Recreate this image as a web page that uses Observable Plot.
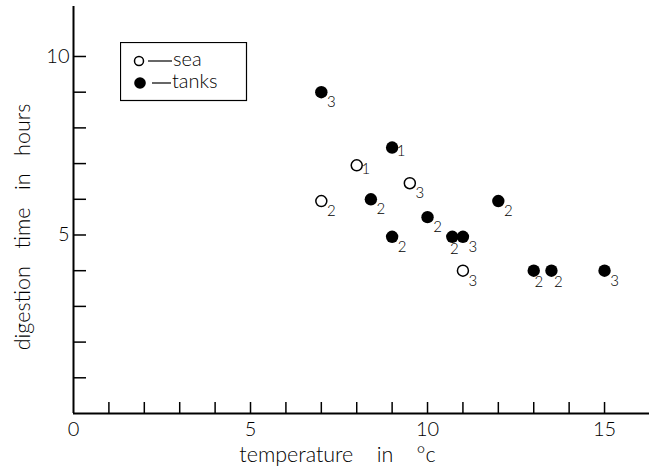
<!DOCTYPE html>
<html><head><meta charset="utf-8">
<script src="https://cdn.jsdelivr.net/npm/d3@7"></script>
<script src="https://cdn.jsdelivr.net/npm/@observablehq/plot@0.6"></script>
<style>
body{margin:0;background:#fff;}
#wrap{position:relative;width:656px;height:469px;}
#legend{position:absolute;left:120px;top:42px;}
svg text{white-space:pre;font-weight:300;}
</style></head><body><div id="wrap"></div>
<script>
// sea-caught fish
const seaTemp = [7, 8, 9.5, 11];
const seaTime = [5.95, 6.95, 6.45, 4];
const seaN    = [2, 1, 3, 3];
// fish kept in tanks
const tankTemp = [7, 9, 8.4, 9, 10, 10.7, 11, 12, 13, 13.5, 15];
const tankTime = [9, 7.45, 6, 4.95, 5.5, 4.95, 4.95, 5.95, 4, 4, 4];
const tankN    = [3, 1, 2, 2, 2, 2, 3, 2, 2, 2, 3];
// axes
const xTicks = [1,2,3,4,5,6,7,8,9,10,11,12,13,14,15];
const xTickLabels = [0, 5, 10, 15];
const yTicks = [1,2,3,4,5,6,7,8,9,10];
const yTickLabels = [5, 10];
const xTitle = "temperature    in    °c";
const yTitle = "digestion   time   in   hours";
const legendItems = ["sea", "tanks"];

const font = "Lato, 'DejaVu Sans', sans-serif";
const W = 656, H = 469, mL = 73, mR = 7, mT = 6, mB = 56;

const sea = seaTemp.map((x, i) => ({x, y: seaTime[i], n: seaN[i]}));
const tanks = tankTemp.map((x, i) => ({x, y: tankTime[i], n: tankN[i]}));

// subscript placement (lower right of the marker, directly below where crowded)
function offset(d, group) {
  if (group === "tanks" && d.y === 4.95 && d.x === 10.7) return [2, 12];
  if (group === "tanks" && d.y === 4 && d.x === 13) return [5, 11];
  if (group === "tanks" && d.y === 4 && d.x === 13.5) return [7, 11];
  if (d.n === 1) return [9, 4];
  return [10, 10];
}
function labelMarks(rows, group) {
  const groups = d3.group(rows, d => offset(d, group).join(","));
  return Array.from(groups, ([k, data]) => {
    const [dx, dy] = k.split(",").map(Number);
    return Plot.text(data, {x: "x", y: "y", text: d => String(d.n), dx, dy, fontSize: 15});
  });
}

const plot = Plot.plot({
  width: W, height: H,
  marginLeft: mL, marginRight: mR, marginTop: mT, marginBottom: mB,
  x: {domain: [0, 16.27], axis: null},
  y: {domain: [0, 11.4], axis: null},
  style: {fontFamily: font, background: "white", color: "black"},
  marks: [
    Plot.ruleY([0], {strokeWidth: 2}),
    Plot.ruleX([0], {strokeWidth: 2}),
    Plot.tickX(xTicks, {x: d => d, strokeWidth: 1.5, insetTop: (H - mT - mB) - 11}),
    Plot.tickY(yTicks, {y: d => d, strokeWidth: 1.5, insetRight: (W - mL - mR) - 13}),
    Plot.text(xTickLabels, {x: d => d, y: 0, text: d => String(d), dy: 16, fontSize: 20}),
    Plot.text(yTickLabels, {x: 0, y: d => d, text: d => String(d), textAnchor: "end", dx: -4, fontSize: 20}),
    Plot.text([xTitle], {frameAnchor: "bottom", lineAnchor: "middle", text: d => d, dx: -24, dy: 42, fontSize: 21.5}),
    Plot.text([yTitle], {frameAnchor: "left", lineAnchor: "middle", textAnchor: "middle", rotate: -90, text: d => d, dx: -50, dy: 17, fontSize: 21.5}),
    Plot.dot(sea, {x: "x", y: "y", r: 5.5, fill: "white", stroke: "black", strokeWidth: 1.5}),
    Plot.dot(tanks, {x: "x", y: "y", r: 6.2, fill: "black", stroke: "none"}),
    ...labelMarks(sea, "sea"),
    ...labelMarks(tanks, "tanks")
  ]
});

const wrap = document.getElementById("wrap");
wrap.appendChild(plot);

// legend box
const leg = document.createElement("div");
leg.id = "legend";
leg.innerHTML = `<svg width="128" height="60" font-family="${font.replace(/"/g, "'")}" font-size="20">
  <rect x="0.5" y="0.5" width="126" height="58" fill="white" stroke="black" stroke-width="1.2"/>
  <circle cx="19" cy="19" r="4.5" fill="white" stroke="black" stroke-width="1.5"/>
  <line x1="28" x2="52" y1="19" y2="19" stroke="black" stroke-width="1.2"/>
  <text x="53" y="24">${legendItems[0]}</text>
  <circle cx="20" cy="41" r="5.8" fill="black"/>
  <line x1="32" x2="51" y1="41" y2="41" stroke="black" stroke-width="1.2"/>
  <text x="52" y="46">${legendItems[1]}</text>
</svg>`;
wrap.appendChild(leg);
</script></body></html>
